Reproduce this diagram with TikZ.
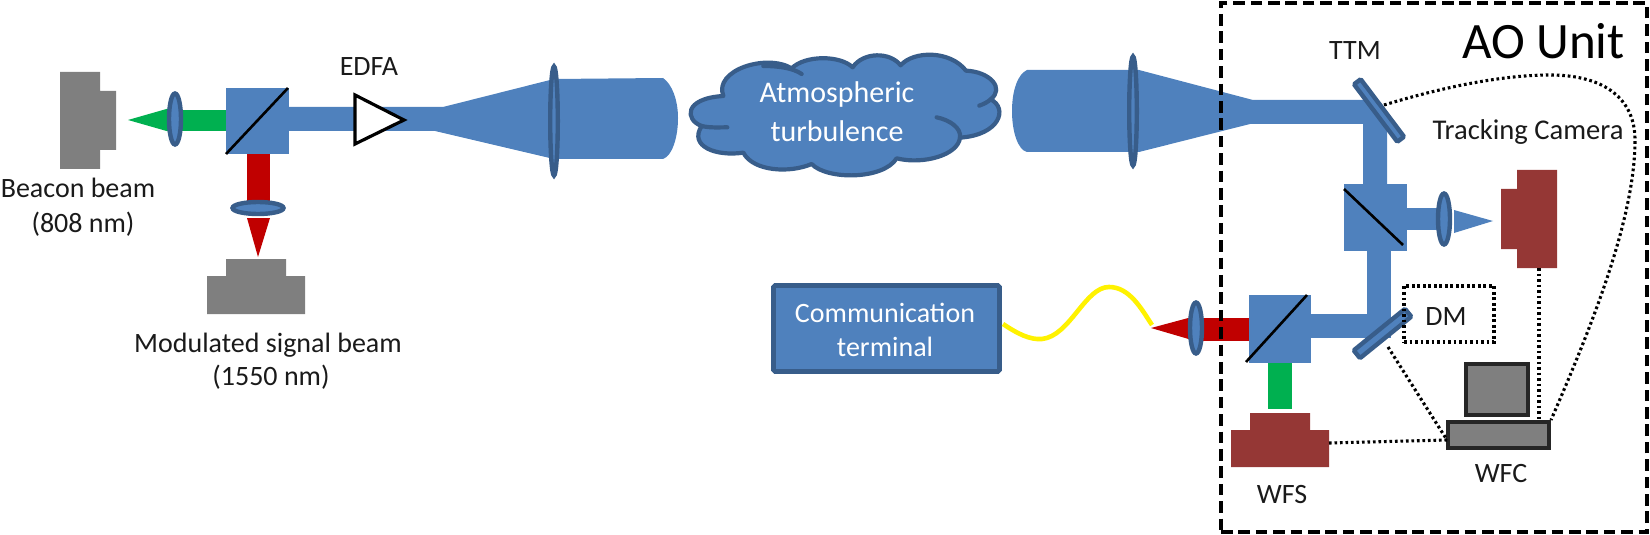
\documentclass[tikz,border=0pt]{standalone}
\usepackage{fontspec}
\setmainfont{Carlito}
\usetikzlibrary{shapes.geometric}
\definecolor{beam}{HTML}{4F81BD}
\definecolor{beamdk}{HTML}{385D8A}
\definecolor{grn}{HTML}{00B050}
\definecolor{rd}{HTML}{C00000}
\definecolor{brn}{HTML}{953735}
\definecolor{gry}{HTML}{7F7F7F}
\definecolor{txt}{HTML}{1A1A1A}
\tikzset{
  lbl/.style={inner sep=0pt,anchor=base,align=center,font=\fontsize{14}{16}\selectfont,text=txt},
  wlbl/.style={lbl,text=white},
  lens/.style={ellipse,draw=beamdk,fill=beam,line width=2.2pt,inner sep=0pt},
  mirror/.style={rectangle,draw=beamdk,fill=beam,line width=2.2pt,rounded corners=0.6pt,inner sep=0pt},
  dotline/.style={black,line width=1.55pt,dash pattern=on 1.35pt off 1.4pt},
  unitbox/.style={draw=black,line width=1.6pt,dash pattern=on 5.8pt off 2.9pt},
  pc/.style={rectangle,draw=black!85,fill=gry,line width=1.6pt,inner sep=0pt},
  fibre/.style={draw=yellow,line width=2.3pt},
  splitline/.style={draw=black,line width=1.3pt},
  cloudline/.style={draw=beamdk,line width=2.1pt,line cap=round}
}
\begin{document}
\begin{tikzpicture}[x=0.5pt,y=-0.5pt]
\useasboundingbox (0,0) rectangle (1650,535);

% ---------- left beams
\fill[grn] (175,110) rectangle (226,131);
\fill[grn] (128,120) -- (170,108) -- (170,132) -- cycle;
\fill[rd] (247,154) rectangle (270,205);
\fill[rd] (247,218) -- (270,218) -- (258,257) -- cycle;
\fill[beam] (289,107) -- (443,107) -- (554,79) -- (663,78)
  .. controls (672,84) and (678,100) .. (678,118)
  .. controls (678,138) and (672,156) .. (663,159)
  -- (554,159) -- (435,131) -- (289,131) -- cycle;
\fill[beam] (226,88) rectangle (289,154);
\draw[splitline] (226,154) -- (288,88);

% ---------- sources
\fill[gry] (60,72) -- (100,72) -- (100,91) -- (116,91) -- (116,150) -- (100,150) -- (100,169) -- (60,169) -- cycle;
\fill[gry] (226,259) -- (286,259) -- (286,276) -- (305,276) -- (305,314) -- (207,314) -- (207,276) -- (226,276) -- cycle;

\node[lens,minimum width=6pt,minimum height=25.5pt] (lensA) at (175,119) {};
\node[lens,minimum width=25.5pt,minimum height=6pt] (lensB) at (258,208) {};
\node[lens,minimum width=3.8pt,minimum height=54.5pt] (lensC) at (554,121) {};

% EDFA
\draw[black,fill=white,line width=1.6pt,line join=miter] (355,95) -- (404,120) -- (355,144) -- cycle;

% ---------- cloud
\begin{scope}[shift={(680,40)},scale=0.3333]
\draw[fill=beam,cloudline,line join=round]
  (65,258) .. controls (15,240) and (10,175) .. (130,168)
  .. controls (100,90) and (260,40) .. (335,85)
  .. controls (375,45) and (480,45) .. (518,82)
  .. controls (550,35) and (630,35) .. (662,76)
  .. controls (700,32) and (810,30) .. (858,92)
  .. controls (930,95) and (975,145) .. (932,178)
  .. controls (985,205) and (960,285) .. (840,293)
  .. controls (835,345) and (730,375) .. (650,355)
  .. controls (610,420) and (440,420) .. (395,372)
  .. controls (330,400) and (220,395) .. (190,338)
  .. controls (110,350) and (25,320) .. (65,258) -- cycle;
\draw[cloudline] (65,258) .. controls (90,264) and (115,262) .. (142,262);
\draw[cloudline] (250,78) .. controls (300,78) and (340,85) .. (365,102);
\draw[cloudline] (932,178) .. controls (925,185) and (912,192) .. (898,197);
\draw[cloudline] (770,232) .. controls (810,240) and (845,265) .. (840,293);
\end{scope}
\node[wlbl,font=\fontsize{15}{17}\selectfont] (atm) at (837,103) {Atmospheric};
\node[wlbl,font=\fontsize{15}{17}\selectfont] (turb) at (837,141) {turbulence};

% ---------- receiver beams
\fill[beam] (1012,111)
  .. controls (1012,90) and (1018,74) .. (1027,70)
  -- (1139,70) -- (1253,100) -- (1372,100) -- (1387,118) -- (1387,184) -- (1363,184) -- (1363,124) -- (1250,124) -- (1139,152) -- (1027,152)
  .. controls (1018,150) and (1012,132) .. (1012,111) -- cycle;
\fill[beam] (1407,208) rectangle (1440,230);
\fill[beam] (1454,210) -- (1493,221) -- (1454,233) -- cycle;
\fill[beam] (1344,184) rectangle (1407,251);
\fill[beam] (1367,251) rectangle (1391,338);
\fill[beam] (1311,314) rectangle (1391,338);
\fill[beam] (1249,295) rectangle (1311,363);
\draw[splitline] (1344,189) -- (1403,245);
\draw[splitline] (1246,362) -- (1307,295);
\fill[rd] (1190,318) rectangle (1249,341);
\fill[rd] (1151,328) -- (1192,317) -- (1192,340) -- cycle;
\fill[grn] (1268,363) rectangle (1292,409);

\node[lens,minimum width=3.8pt,minimum height=54.5pt] (lensD) at (1133,111) {};
\node[lens,minimum width=6pt,minimum height=25.5pt] (lensE) at (1444,219) {};
\node[lens,minimum width=6pt,minimum height=25.5pt] (lensF) at (1196,328) {};

\node[mirror,minimum width=36pt,minimum height=4.2pt,rotate=-53] (ttm) at (1379,110.5) {};
\node[mirror,minimum width=33pt,minimum height=5pt,rotate=39] (dm) at (1382.5,333.5) {};

% ---------- cameras
\fill[brn] (1517,170) -- (1557,170) -- (1557,268) -- (1517,268) -- (1517,249) -- (1501,249) -- (1501,189) -- (1517,189) -- cycle;
\fill[brn] (1250,413) -- (1310,413) -- (1310,430) -- (1329,430) -- (1329,467) -- (1231,467) -- (1231,430) -- (1250,430) -- cycle;

% ---------- boxes
\node[rectangle,draw=beamdk,fill=beam,line width=2.3pt,rounded corners=0.8pt,minimum width=113pt,minimum height=43pt,inner sep=0pt] (term) at (886.5,328.5) {};
\node[wlbl] (comm1) at (885,322) {Communication};
\node[wlbl] (comm2) at (885,356) {terminal};

\node[pc,minimum width=31pt,minimum height=25.5pt] (mon) at (1497,389.5) {};
\node[pc,minimum width=50.5pt,minimum height=13pt] (wfc) at (1498.5,435) {};
\node[rectangle,dotline,draw,minimum width=45pt,minimum height=28pt,inner sep=0pt] (dmbox) at (1449,314) {};

% ---------- fibre
\coordinate (fibA) at (1003,324);
\coordinate (fibB) at (1152,325);
\draw[fibre] (fibA) .. controls (1018,334) and (1030,340) .. (1042,339)
  .. controls (1070,336) and (1085,287) .. (1109,287)
  .. controls (1130,287) and (1142,310) .. (fibB);

% ---------- control lines
\coordinate (ttmC) at (1384,105);
\coordinate (dmC) at (1388,347);
\coordinate (camB) at (1539,268);
\coordinate (wfsE) at (1329,443);
\coordinate (wfcA) at (1447,440);
\coordinate (wfcB) at (1539,420);
\coordinate (wfcC) at (1551,420);
\draw[dotline] (ttmC) .. controls (1440,88) and (1500,75) .. (1550,75)
  .. controls (1606,75) and (1635,100) .. (1635,140)
  .. controls (1635,220) and (1590,330) .. (wfcC);
\draw[dotline] (camB) -- (wfcB);
\draw[dotline] (dmC) -- (wfcA);
\draw[dotline] (wfsE) -- (wfcA);

% ---------- unit frame
\node[rectangle,unitbox,minimum width=213pt,minimum height=264.5pt,inner sep=0pt] (unit) at (1434,267.5) {};

% ---------- labels
\node[lbl] (l1) at (78,198) {Beacon beam};
\node[lbl] (l2) at (83,233) {(808 nm)};
\node[lbl] (l3) at (268,352) {Modulated signal beam};
\node[lbl] (l4) at (271,385) {(1550 nm)};
\node[lbl] (l5) at (369,76) {EDFA};
\node[lbl,font=\fontsize{25.5}{28}\selectfont,text=black] (l6) at (1543.5,59) {AO Unit};
\node[lbl] (l7) at (1355,60) {TTM};
\node[lbl,font=\fontsize{14.3}{16}\selectfont] (l8) at (1528,140) {Tracking Camera};
\node[lbl] (l9) at (1446,325) {DM};
\node[lbl] (l10) at (1282,503) {WFS};
\node[lbl] (l11) at (1501,482) {WFC};
\end{tikzpicture}
\end{document}
